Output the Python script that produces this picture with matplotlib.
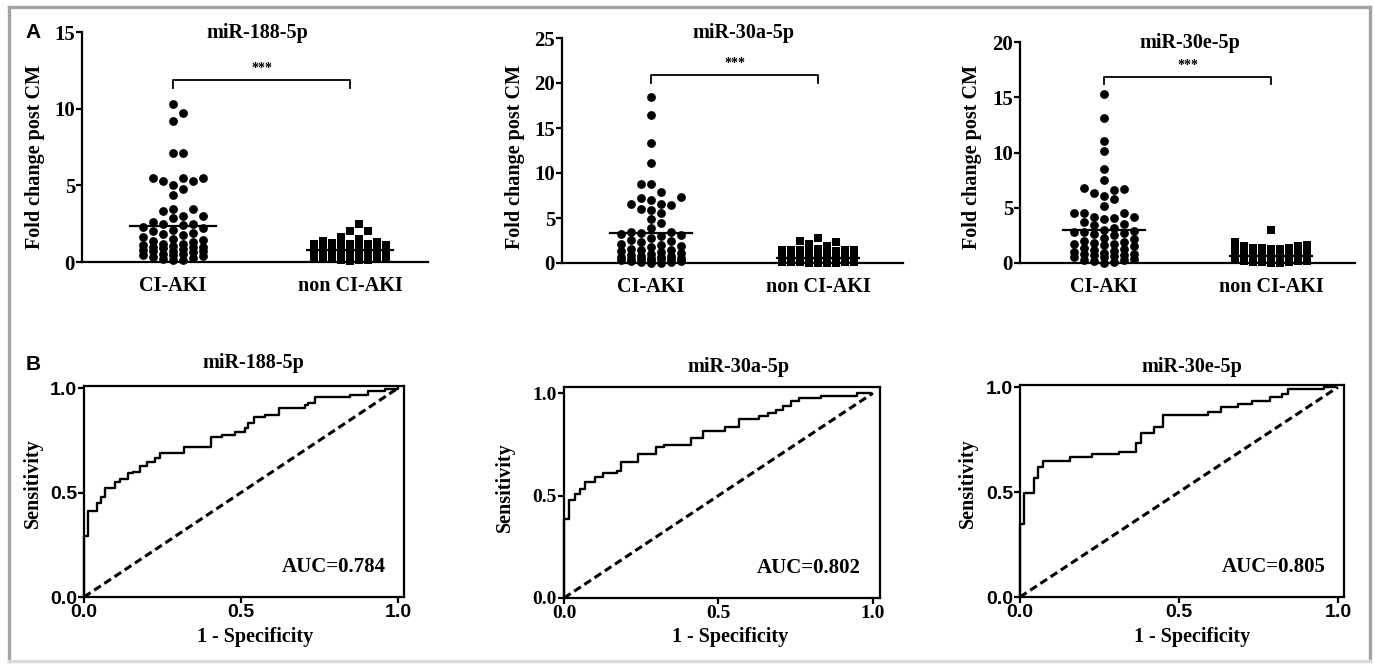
import numpy as np
import matplotlib
matplotlib.use('Agg')
import matplotlib.pyplot as plt

plt.rcParams['font.family'] = 'Liberation Serif'
plt.rcParams['font.weight'] = 'bold'

W, H = 1375, 664

# ---- data ----
mirnas = ['miR-188-5p', 'miR-30a-5p', 'miR-30e-5p']
groups = ['CI-AKI', 'non CI-AKI']

ci_188 = [10.3, 9.7, 9.2, 7.1, 7.1, 5.5, 5.5, 5.5, 5.3, 5.3, 5.0, 4.75, 4.4, 3.45, 3.45,
          3.35, 3.0, 3.0, 2.85, 2.6, 2.5, 2.45, 2.4, 2.3, 2.2, 2.1, 2.0, 1.9, 1.85, 1.75,
          1.6, 1.5, 1.45, 1.4, 1.3, 1.2, 1.15, 1.1, 1.05, 1.0, 1.0, 0.95, 0.9, 0.85, 0.8,
          0.75, 0.7, 0.7, 0.65, 0.55, 0.5, 0.45, 0.45, 0.4, 0.35, 0.25, 0.2, 0.15, 0.1]
non_188 = [2.5, 2.05, 2.0, 1.65, 1.5, 1.35, 1.3, 1.25, 1.2, 1.2, 1.15, 1.1, 1.1, 1.05, 1.0,
           1.0, 0.95, 0.95, 0.9, 0.9, 0.9, 0.85, 0.85, 0.8, 0.8, 0.8, 0.75, 0.75, 0.7, 0.7,
           0.7, 0.65, 0.65, 0.6, 0.6, 0.6, 0.55, 0.55, 0.5, 0.5, 0.5, 0.45, 0.45, 0.4, 0.4,
           0.4, 0.35, 0.35, 0.3, 0.3, 0.25, 0.25, 0.2, 0.2, 0.15, 0.1, 0.1, 0.05]
ci_30a = [18.5, 16.4, 13.3, 11.1, 8.8, 8.8, 7.9, 7.3, 7.2, 7.0, 6.6, 6.6, 6.45, 6.0, 5.9,
          5.6, 4.85, 4.4, 3.85, 3.5, 3.4, 3.3, 3.2, 3.1, 3.0, 2.8, 2.6, 2.5, 2.3, 2.1, 2.0,
          1.9, 1.8, 1.6, 1.5, 1.4, 1.3, 1.2, 1.1, 1.0, 0.9, 0.8, 0.8, 0.7, 0.7, 0.6, 0.6,
          0.5, 0.5, 0.4, 0.4, 0.3, 0.3, 0.2, 0.2, 0.1, 0.1, 0.05, 0.0]
non_30a = [2.8, 2.5, 2.3, 2.1, 1.9, 1.6, 1.5, 1.5, 1.45, 1.4, 1.4, 1.35, 1.3, 1.2, 1.1, 1.0,
           0.9, 0.9, 0.8, 0.8, 0.75, 0.7, 0.7, 0.65, 0.6, 0.6, 0.55, 0.5, 0.5, 0.45, 0.45,
           0.4, 0.4, 0.35, 0.35, 0.3, 0.3, 0.25, 0.25, 0.2, 0.2, 0.2, 0.15, 0.15, 0.1, 0.1,
           0.1, 0.05, 0.05, 0.0, 0.0]
ci_30e = [15.3, 13.1, 11.0, 10.1, 8.5, 7.5, 6.8, 6.7, 6.6, 6.3, 6.1, 5.8, 5.2, 4.5, 4.5,
          4.5, 4.2, 4.2, 4.1, 4.0, 3.75, 3.5, 3.4, 3.2, 3.0, 2.9, 2.8, 2.8, 2.7, 2.6, 2.5,
          2.3, 2.2, 2.0, 1.9, 1.8, 1.7, 1.7, 1.6, 1.5, 1.4, 1.3, 1.2, 1.1, 1.0, 0.9, 0.8,
          0.8, 0.7, 0.7, 0.6, 0.5, 0.5, 0.4, 0.3, 0.3, 0.2, 0.1, 0.0]
non_30e = [2.95, 1.9, 1.6, 1.5, 1.5, 1.4, 1.4, 1.35, 1.3, 1.25, 1.2, 1.15, 1.1, 1.05, 1.0,
           1.0, 0.95, 0.9, 0.9, 0.85, 0.8, 0.8, 0.75, 0.7, 0.7, 0.65, 0.6, 0.6, 0.55, 0.5,
           0.5, 0.45, 0.4, 0.4, 0.35, 0.3, 0.3, 0.25, 0.2, 0.2, 0.15, 0.1, 0.1, 0.05, 0.0, 0.0]

mean_lines = [[2.35, 0.78], [3.3, 0.6], [3.0, 0.66]]
ymax_a = [15, 25, 20]
sig_y = [11.87, 20.9, 16.86]

fpr_188 = [0, 0, 0.014, 0.04, 0.054, 0.067, 0.10, 0.115, 0.14, 0.157, 0.178, 0.20, 0.226,
           0.242, 0.32, 0.406, 0.438, 0.48, 0.512, 0.523, 0.54, 0.576, 0.62, 0.703, 0.714,
           0.735, 0.846, 0.905, 0.958, 1.0]
tpr_188 = [0, 0.29, 0.41, 0.45, 0.48, 0.52, 0.55, 0.565, 0.595, 0.60, 0.625, 0.645, 0.664,
           0.688, 0.72, 0.765, 0.776, 0.79, 0.808, 0.832, 0.86, 0.872, 0.904, 0.917, 0.93,
           0.955, 0.968, 0.984, 0.997, 1.0]
fpr_30a = [0, 0, 0.017, 0.036, 0.052, 0.068, 0.10, 0.127, 0.17, 0.185, 0.24, 0.298, 0.324,
           0.41, 0.451, 0.52, 0.565, 0.632, 0.662, 0.687, 0.708, 0.735, 0.762, 0.831, 0.948, 0.99]
tpr_30a = [0, 0.384, 0.477, 0.507, 0.534, 0.564, 0.593, 0.608, 0.618, 0.662, 0.703, 0.735,
           0.748, 0.781, 0.817, 0.833, 0.874, 0.886, 0.902, 0.918, 0.935, 0.961, 0.975, 0.985,
           1.0, 1.0]
fpr_30e = [0, 0, 0.014, 0.045, 0.058, 0.073, 0.157, 0.226, 0.31, 0.365, 0.38, 0.423, 0.451,
           0.59, 0.633, 0.687, 0.729, 0.787, 0.824, 0.843, 0.955, 0.99]
tpr_30e = [0, 0.347, 0.497, 0.565, 0.621, 0.648, 0.669, 0.682, 0.693, 0.736, 0.78, 0.812,
           0.865, 0.879, 0.903, 0.92, 0.936, 0.951, 0.967, 0.992, 1.0, 1.0]
auc = ['0.784', '0.802', '0.805']

scatter_data = [(ci_188, non_188), (ci_30a, non_30a), (ci_30e, non_30e)]
roc_data = [(fpr_188, tpr_188), (fpr_30a, tpr_30a), (fpr_30e, tpr_30e)]

# ---- layout (pixel boxes) ----
a_boxes = [(82, 428, 32, 262), (562, 903, 38, 263), (1020, 1355, 42, 263)]
a_xlims = [(0.486, 2.44), (0.467, 2.509), (0.497, 2.503)]
a_titles = [(257, 33), (743, 33), (1190, 43)]
a_ylab = [(35, 157), (515, 157), (972, 157)]
b_boxes = [(84, 404, 386, 597), (564, 880, 387, 598), (1020, 1344, 385, 597)]
b_lims = [(1.019, 1.01), (1.023, 1.03), (1.019, 1.01)]
b_titles = [(253, 363), (738, 367), (1192, 367)]
b_ylab = [(33, 483), (505, 487), (968, 483)]
b_xlab = [(255, 637), (730, 637), (1192, 637)]
b_tickfont = ['Liberation Sans', 'Liberation Serif', 'Liberation Sans']

fig = plt.figure(figsize=(W / 100, H / 100), dpi=100)


def rect(l, r, t, b):
    return [l / W, 1 - b / H, (r - l) / W, (b - t) / H]


def ftext(px, py, s, **kw):
    fig.text(px / W, 1 - py / H, s, **kw)


def swarm_x(ax, xc, vals, step, thr, nslot):
    # column scatter: points sit in slots `step` px apart, nudged sideways when they overlap
    tr = ax.transData
    vals = np.asarray(vals, float)
    ys = tr.transform(np.column_stack([np.full(len(vals), xc), vals]))[:, 1]
    x0 = tr.transform((xc, 0))[0]
    slots = [0]
    for k in range(1, nslot + 1):
        slots += [k, -k]
    placed = {s: [] for s in slots}
    offs = np.zeros(len(vals))
    for i in np.argsort(vals):
        best, bestd = 0, -1.0
        for s in slots:
            md = min([abs(y - ys[i]) for y in placed[s]], default=np.inf)
            if md >= thr:
                best = s
                break
            if md > bestd:
                best, bestd = s, md
        placed[best].append(ys[i])
        offs[i] = best * step
    return tr.inverted().transform(np.column_stack([x0 + offs, ys]))[:, 0]


lw = 1.6
for i in range(3):
    l, r, t, b = a_boxes[i]
    ax = fig.add_axes(rect(l, r, t, b))
    ax.set_xlim(*a_xlims[i])
    ax.set_ylim(0, ymax_a[i])
    for s in ['top', 'right']:
        ax.spines[s].set_visible(False)
    for s in ['left', 'bottom']:
        ax.spines[s].set_linewidth(lw)
    ax.set_yticks(range(0, ymax_a[i] + 1, 5))
    ax.tick_params(axis='y', length=4, width=lw, pad=1, labelsize=15)
    ax.set_xticks([1, 2])
    ax.set_xticklabels(groups)
    ax.tick_params(axis='x', length=0, pad=10, labelsize=14.5)
    ci, non = scatter_data[i]
    xs = swarm_x(ax, 1, ci, 10, 8.5, 3)
    ax.scatter(xs, ci, s=40, marker='o', color='black', linewidths=0, clip_on=False, zorder=3)
    xs = swarm_x(ax, 2, non, 9, 8.5, 4)
    ax.scatter(xs, non, s=34, marker='s', color='black', linewidths=0, clip_on=False, zorder=3)
    for j, m in enumerate(mean_lines[i]):
        ax.plot([j + 1 - 0.245, j + 1 + 0.245], [m, m], color='black', lw=lw, zorder=4)
    # significance bracket
    top = sig_y[i]
    drop = ymax_a[i] * 0.035
    ax.plot([1, 1, 2, 2], [top - drop, top, top, top - drop], color='black', lw=1.3, clip_on=False)
    ax.text(1.5, top + ymax_a[i] * 0.02, '***', ha='center', va='bottom', fontsize=10)
    ftext(*a_titles[i], mirnas[i], ha='center', va='center', fontsize=14.5)
    ftext(*a_ylab[i], 'Fold change post CM', ha='center', va='center', rotation=90, fontsize=14.5)

for i in range(3):
    l, r, t, b = b_boxes[i]
    ax = fig.add_axes(rect(l, r, t, b))
    ax.set_xlim(0, b_lims[i][0])
    ax.set_ylim(0, b_lims[i][1])
    for s in ax.spines.values():
        s.set_linewidth(lw)
    ax.set_xticks([0, 0.5, 1.0])
    ax.set_yticks([0, 0.5, 1.0])
    ax.set_xticklabels(['0.0', '0.5', '1.0'])
    ax.set_yticklabels(['0.0', '0.5', '1.0'])
    ax.tick_params(length=4, width=lw, pad=1, labelsize=14)
    for lab in ax.get_xticklabels() + ax.get_yticklabels():
        lab.set_family(b_tickfont[i])
        lab.set_fontweight('bold')
    fpr, tpr = roc_data[i]
    ax.plot(fpr, tpr, drawstyle='steps-post', color='black', lw=1.7, clip_on=False)
    ax.plot([0, 1], [0, 1], color='black', lw=2.2, ls=(0, (2.6, 1.4)))
    ax.text(0.96, 0.145, 'AUC=' + auc[i], ha='right', va='center', fontsize=15)
    ftext(*b_titles[i], mirnas[i], ha='center', va='center', fontsize=14.5)
    ftext(*b_ylab[i], 'Sensitivity', ha='center', va='center', rotation=90, fontsize=14.5)
    ftext(*b_xlab[i], '1 - Specificity', ha='center', va='center', fontsize=14.5)

ftext(33, 33, 'A', ha='center', va='center', fontsize=15, family='Liberation Sans')
ftext(33, 365, 'B', ha='center', va='center', fontsize=15, family='Liberation Sans')

# grey frame round the figure
frame = '#a3a3a3'
for xs_, ys_, c in [([9, 1370], [7, 7], frame), ([9, 9], [7, 661], frame),
                    ([1370, 1370], [7, 661], frame), ([9, 1370], [661, 661], '#dadada')]:
    fig.add_artist(plt.Line2D([x / W for x in xs_], [1 - y / H for y in ys_],
                              transform=fig.transFigure, color=c, lw=2.4))

fig.savefig('out.png', dpi=100)
